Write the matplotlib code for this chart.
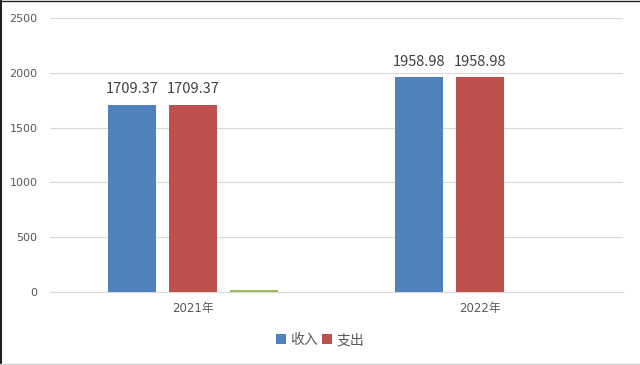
import matplotlib.pyplot as plt
import numpy as np

plt.rcParams['font.family'] = ['DejaVu Sans', 'Noto Sans CJK SC']

categories = ['2021年', '2022年']
income = [1709.37, 1958.98]
expense = [1709.37, 1958.98]
other = [15, 0]
y_ticks = [0, 500, 1000, 1500, 2000, 2500]


def main():
    fig = plt.figure(figsize=(6.4, 3.65), dpi=100)
    ax = fig.add_axes([0.078, 0.2, 0.896, 0.7507])
    x = np.arange(len(categories))
    w = 0.167
    step = 0.2125
    b1 = ax.bar(x - step, income, w, color='#4F81BD', label='收入', zorder=3)
    b2 = ax.bar(x, expense, w, color='#C0504D', label='支出', zorder=3)
    ax.bar(x + step, other, w, color='#9BBB59', zorder=3)
    for bars in (b1, b2):
        ax.bar_label(bars, labels=['%.2f' % v for v in bars.datavalues],
                     padding=6, fontsize=10.5, color='#404040',
                     family=['Noto Sans CJK SC', 'DejaVu Sans'])
    ax.set_xlim(-0.5, 1.5)
    ax.set_ylim(0, 2500)
    ax.set_yticks(y_ticks)
    ax.set_xticks(x)
    ax.set_xticklabels(categories)
    ax.tick_params(axis='y', length=0, labelsize=8, labelcolor='#595959', pad=9)
    ax.tick_params(axis='x', length=0, labelsize=8.5, labelcolor='#595959', pad=7)
    ax.grid(axis='y', color='#D9D9D9', linewidth=0.8, zorder=0)
    for s in ('top', 'right', 'left'):
        ax.spines[s].set_visible(False)
    ax.spines['bottom'].set_color('#D9D9D9')
    fig.legend(handles=[b1, b2], loc='center', bbox_to_anchor=(0.5, 0.068), ncol=2,
               frameon=False, fontsize=10, labelcolor='#595959', handlelength=0.7,
               handleheight=0.7, handletextpad=0.3, columnspacing=0.35)
    # outer frame
    fig.add_artist(plt.Line2D([0.0015, 0.0015], [0, 1], color='#202020', linewidth=1.5))
    fig.add_artist(plt.Line2D([0, 1], [0.998, 0.998], color='#202020', linewidth=1.0))
    fig.add_artist(plt.Line2D([0, 1], [0.002, 0.002], color='#D0D0D0', linewidth=1.0))
    fig.savefig('out.png')


if __name__ == '__main__':
    main()
